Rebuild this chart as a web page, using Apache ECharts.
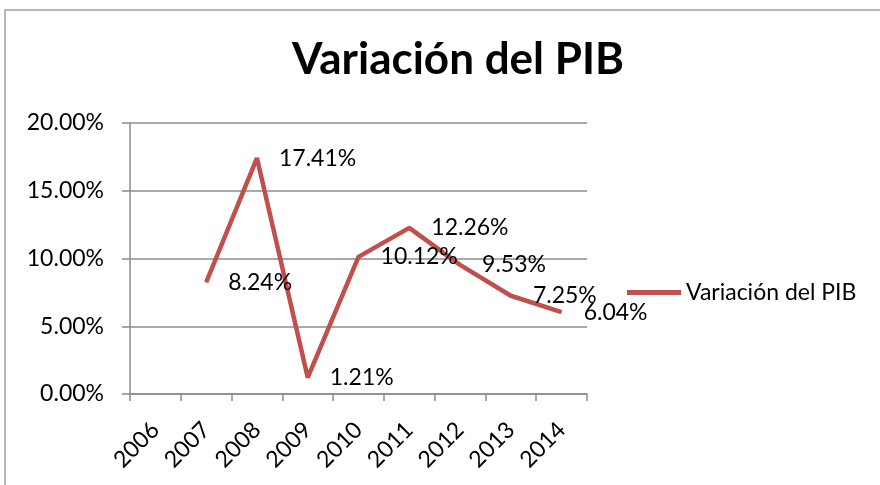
<!DOCTYPE html>
<html>
<head>
<meta charset="utf-8">
<script src="https://cdn.jsdelivr.net/npm/echarts@6/dist/echarts.min.js"></script>
<style>
  html, body { margin: 0; padding: 0; background: #fff; }
  #chart { width: 880px; height: 485px; }
</style>
</head>
<body>
<div id="chart"></div>
<script>
const years = ['2006', '2007', '2008', '2009', '2010', '2011', '2012', '2013', '2014'];
// variación porcentual del PIB (2006 sin dato)
const variacion = [null, 8.24, 17.41, 1.21, 10.12, 12.26, 9.53, 7.25, 6.04];
const seriesName = 'Variación del PIB';

const FONT = 'Lato, "Open Sans", sans-serif';
const AXIS_GRAY = '#8c8c8c';

const chart = echarts.init(document.getElementById('chart'), null, { renderer: 'canvas' });

chart.setOption({
  backgroundColor: '#fff',
  animation: false,
  title: {
    text: 'Variación del PIB',
    left: 453,
    textAlign: 'center',
    top: 33,
    textStyle: { fontFamily: FONT, fontSize: 44, fontWeight: 'bold', color: '#000' },
  },
  graphic: [{
    type: 'rect',
    shape: { x: 5, y: 10, width: 900, height: 500 },
    style: { fill: 'none', stroke: '#a0a0a0', lineWidth: 1.5 },
    silent: true,
  }],
  legend: {
    data: [seriesName],
    left: 622,
    top: 276,
    icon: 'rect',
    itemWidth: 54,
    itemHeight: 5,
    itemGap: 6,
    textStyle: { fontFamily: FONT, fontSize: 23, color: '#000' },
  },
  grid: { left: 130, right: 293, top: 123, bottom: 91, containLabel: false },
  xAxis: {
    type: 'category',
    data: years,
    boundaryGap: true,
    axisLine: { lineStyle: { color: AXIS_GRAY, width: 1.5 } },
    axisTick: { show: true, length: 7, interval: 0, lineStyle: { color: AXIS_GRAY, width: 1.5 } },
    axisLabel: {
      interval: 0,
      rotate: 45,
      margin: 32,
      fontFamily: FONT,
      fontSize: 23,
      color: '#000',
    },
  },
  yAxis: {
    type: 'value',
    min: 0,
    max: 20,
    interval: 5,
    axisLine: { show: true, lineStyle: { color: AXIS_GRAY, width: 1.5 } },
    axisTick: { show: true, length: 8, lineStyle: { color: AXIS_GRAY, width: 1.5 } },
    splitLine: { lineStyle: { color: AXIS_GRAY, width: 1.5 } },
    axisLabel: {
      margin: 26,
      fontFamily: FONT,
      fontSize: 23,
      color: '#000',
      formatter: v => v.toFixed(2) + '%',
    },
  },
  series: [{
    name: seriesName,
    type: 'line',
    data: variacion,
    showSymbol: true,
    symbol: 'circle',
    symbolSize: 0.1,
    connectNulls: false,
    lineStyle: { color: '#c0504d', width: 4.5 },
    itemStyle: { color: '#c0504d' },
    label: {
      show: true,
      position: 'right',
      distance: 22,
      fontFamily: FONT,
      fontSize: 23,
      color: '#000',
      formatter: p => p.value.toFixed(2) + '%',
    },
  }],
});
</script>
</body>
</html>
